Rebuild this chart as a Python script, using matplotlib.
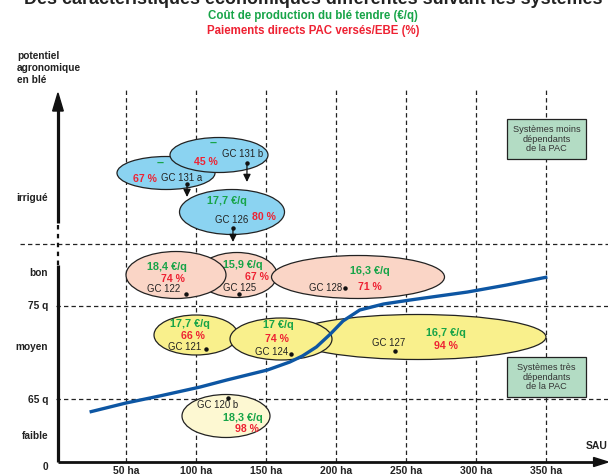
import matplotlib
matplotlib.use("Agg")
import matplotlib.pyplot as plt
import matplotlib.transforms as mtransforms
from matplotlib.patches import Ellipse, Rectangle

plt.rcParams['font.family'] = ['Liberation Sans', 'DejaVu Sans']

W, H = 608, 476

# --- data -----------------------------------------------------------------
# S-curve: potentiel agronomique vs SAU (schematic level, 0 = x axis)
curve_sau = [24, 50, 74, 103, 122, 151, 167, 176, 186, 196, 205, 217, 234, 253, 294, 322, 351]
curve_level = [50, 59, 66, 75, 82, 92, 100, 106, 115, 128, 141, 152, 158, 162, 170, 177, 185]

systems = ["GC 131 a", "GC 131 b", "GC 126", "GC 122", "GC 125", "GC 128",
           "GC 121", "GC 124", "GC 127", "GC 120 b"]
cost = ["–", "–", "17,7 €/q", "18,4 €/q", "15,9 €/q", "16,3 €/q",
        "17,7 €/q", "17 €/q", "16,7 €/q", "18,3 €/q"]
pac = ["67 %", "45 %", "80 %", "74 %", "67 %", "71 %", "66 %", "74 %", "94 %", "98 %"]
sys_sau = [93.6, 136.4, 126.4, 92.9, 130.7, 206.4, 107.1, 167.9, 242.1, 122.9]
sys_level = [278, 299, 234, 168, 168, 174, 113, 108, 111, 64]
# irrigated systems moving down (arrow end level)
arrow_to = {"GC 131 a": 265, "GC 131 b": 280, "GC 126": 220}

xticks = [50, 100, 150, 200, 250, 300, 350]
xtick_labels = ["50 ha", "100 ha", "150 ha", "200 ha", "250 ha", "300 ha", "350 ha"]
ylevels = [264, 189, 156, 115, 62, 26, -5]
ylabels = ["irrigué", "bon", "75 q", "moyen", "65 q", "faible", "0"]
grid_levels = [218, 156, 63]

# --- layout (pixels, y downwards) -----------------------------------------
BLUE, PINK, YEL, CREAM = "#8bd3f1", "#fad5c6", "#f9f08c", "#fdf8d2"
GREEN, RED = "#17a448", "#ee2233"
# name: (cx, cy, w, h, colour, cost xy, pac xy, gc xy, zorder)
layout = {
    "GC 131 a": (166, 173, 98, 33, BLUE, (160, 163), (145, 179), (182, 178), 3),
    "GC 131 b": (219, 155, 98, 35, BLUE, (213, 143), (206, 162), (243, 154), 3.1),
    "GC 126": (232, 212, 105, 45, BLUE, (227, 201), (264, 217), (232, 220), 3),
    "GC 125": (237, 275, 80, 45, PINK, (243, 265), (257, 277), (240, 288), 3),
    "GC 122": (176, 275, 100, 47, PINK, (167, 267), (173, 279), (164, 289), 3.1),
    "GC 128": (358, 277, 173, 43, PINK, (370, 271), (370, 287), (326, 288), 3.2),
    "GC 127": (418, 337, 256, 45, YEL, (446, 333), (446, 346), (389, 343), 3),
    "GC 121": (196, 335, 84, 40, YEL, (190, 324), (193, 336), (185, 347), 3.1),
    "GC 124": (281, 339, 102, 42, YEL, (278, 325), (277, 339), (272, 352), 3.2),
    "GC 120 b": (226, 416, 88, 43, CREAM, (243, 418), (247, 429), (218, 405), 3),
}

fig = plt.figure(figsize=(W / 100, H / 100), dpi=100)
ax = fig.add_axes([0, 0, 1, 1])
# 1.4 px per ha, origin at x=56 px ; level = pixels above the x axis (y=462)
ax.set_xlim(-56 / 1.4, (W - 56) / 1.4)
ax.set_ylim(462 - H, 462)
ax.axis("off")

px = mtransforms.Affine2D().scale(1 / W, -1 / H).translate(0, 1) + fig.transFigure

# titles
fig.text(313, 4, "Des caractéristiques économiques différentes suivant les systèmes",
         transform=px, ha="center", va="baseline", fontsize=12.9, weight="bold", color="#222")
fig.text(313, 16, "Coût de production du blé tendre (€/q)", transform=px, ha="center",
         va="center", fontsize=8.3, weight="bold", color=GREEN)
fig.text(313, 31, "Paiements directs PAC versés/EBE (%)", transform=px, ha="center",
         va="center", fontsize=8.3, weight="bold", color=RED)

# dashed grid
dash = dict(color="#222", lw=0.9, ls=(0, (3.5, 2.5)), zorder=1)
for x in xticks:
    ax.plot([x, x], [0, 372], **dash)
ax.plot([-26, 394], [grid_levels[0], grid_levels[0]], **dash)
for lv in grid_levels[1:]:
    ax.plot([0, 394], [lv, lv], **dash)

# axes
ax.plot([1.4, 1.4], [0, 197], color="#111", lw=2.3, solid_capstyle="butt", zorder=2)
ax.plot([1.4, 1.4], [197, 239], color="#111", lw=1.6, ls=(0, (2, 2)), zorder=2)
ax.plot([1.4, 1.4], [239, 352], color="#111", lw=2.3, solid_capstyle="butt", zorder=2)
ax.fill([-2.4, 5.2, 1.4], [351, 351, 369], color="#111", zorder=2)
ax.plot([1.4, 385], [0, 0], color="#111", lw=2, solid_capstyle="butt", zorder=2)
ax.fill([384, 384, 394.3], [-4.5, 4.5, 0], color="#111", zorder=2)

fig.text(17, 68, "potentiel\nagronomique\nen blé", transform=px, ha="left", va="center",
         fontsize=7.3, weight="bold", color="#222", linespacing=1.25)
for lv, lab in zip(ylevels, ylabels):
    ax.text(-5.7, lv, lab, ha="right", va="center", fontsize=7.3, weight="bold", color="#222")
for x, lab in zip(xticks, xtick_labels):
    ax.text(x, -9, lab, ha="center", va="center", fontsize=7.5, weight="bold", color="#222")
fig.text(586, 446, "SAU", transform=px, ha="left", va="center", fontsize=7.5,
         weight="bold", color="#222")

# boxes
for (x0, y0, txt) in [(507, 119, "Systèmes moins\ndépendants\nde la PAC"),
                      (507, 357, "Systèmes très\ndépendants\nde la PAC")]:
    ax.add_patch(Rectangle((x0, y0), 79, 40, transform=px, facecolor="#b3dcc4",
                           edgecolor="#222", lw=0.9, zorder=3))
    ax.text(x0 + 39.5, y0 + 20, txt, transform=px, ha="center", va="center",
            fontsize=6.6, color="#333", linespacing=1.12, zorder=4)

# ellipses and labels
for name, c, p, xs, ys in zip(systems, cost, pac, sys_sau, sys_level):
    cx, cy, w, h, col, cxy, pxy, gxy, z = layout[name]
    ax.add_patch(Ellipse((cx, cy), w, h, transform=px, facecolor=col,
                         edgecolor="#222", lw=0.9, zorder=z))
    ax.text(*cxy, c, transform=px, ha="center", va="center", fontsize=9 if c == "–" else 7.8,
            weight="bold", color=GREEN, zorder=z + 0.01)
    ax.text(*pxy, p, transform=px, ha="center", va="center", fontsize=7.6,
            weight="bold", color=RED, zorder=z + 0.01)
    ax.text(*gxy, name, transform=px, ha="center", va="center", fontsize=6.9,
            color="#222", zorder=z + 0.01)
    ax.plot(xs, ys, "o", color="#111", ms=2.2, zorder=z + 0.02)
    if name in arrow_to:
        ax.annotate("", xy=(xs, arrow_to[name]), xytext=(xs, ys),
                    arrowprops=dict(arrowstyle="-|>,head_length=0.45,head_width=0.22",
                                    color="#111", lw=0.9, shrinkA=0, shrinkB=0), zorder=6)

ax.plot(curve_sau, curve_level, color="#0d56a3", lw=2.4, solid_capstyle="butt", zorder=5)

fig.savefig("out.png", dpi=100)
